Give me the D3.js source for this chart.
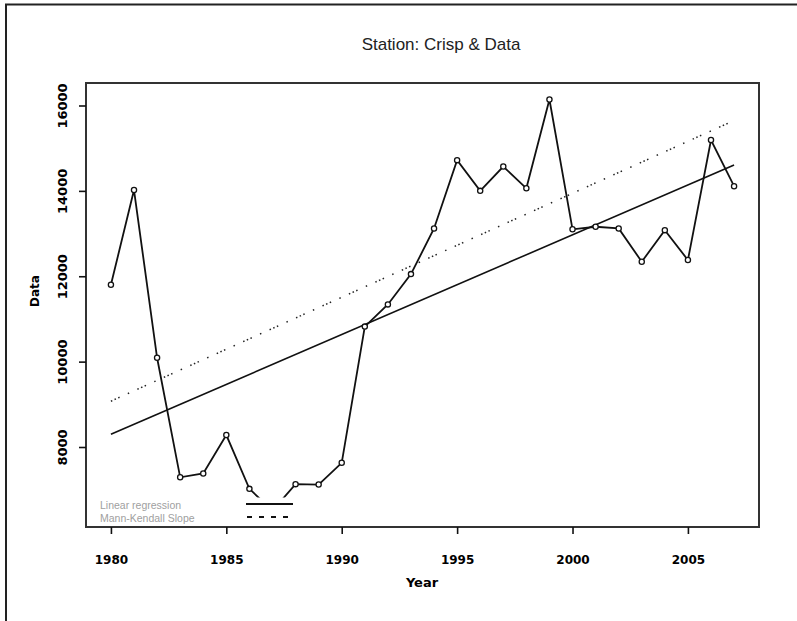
<!DOCTYPE html>
<html>
<head>
<meta charset="utf-8">
<script src="https://d3js.org/d3.v7.min.js"></script>
<style>
  html, body { margin: 0; padding: 0; background: #fff; }
  svg { display: block; }
</style>
</head>
<body>
<svg id="chart" width="797" height="621"></svg>
<script>
// ---- data ----
const years = [1980, 1981, 1982, 1983, 1984, 1985, 1986, 1987, 1988, 1989,
               1990, 1991, 1992, 1993, 1994, 1995, 1996, 1997, 1998, 1999,
               2000, 2001, 2002, 2003, 2004, 2005, 2006, 2007];
const values = [11800, 14020, 10090, 7290, 7380, 8280, 7020, 6510, 7130, 7120,
                7630, 10820, 11340, 12050, 13120, 14720, 14000, 14570, 14060, 16140,
                13100, 13160, 13120, 12340, 13080, 12380, 15190, 14110];
const trendYears = [1980, 2007];
const linearRegression = [8297, 14606];
const mannKendall = [9073, 15648];
const xTicks = [1980, 1985, 1990, 1995, 2000, 2005];
const yTicks = [8000, 10000, 12000, 14000, 16000];
const titleText = "Station: Crisp & Data";
const xLabel = "Year";
const yLabel = "Data";
const legendLabels = ["Linear regression", "Mann-Kendall Slope"];

// ---- layout ----
const svg = d3.select("#chart");
const L = 86, R = 759, T = 83, B = 527;

const x = d3.scaleLinear().domain([1978.92, 2008.08]).range([L, R]);
const y = d3.scaleLinear().domain([6126, 16527]).range([B, T]);

// outer frame
svg.append("line").attr("x1", 6).attr("x2", 6).attr("y1", 4).attr("y2", 621)
  .attr("stroke", "#222").attr("stroke-width", 2);
svg.append("line").attr("x1", 5).attr("x2", 797).attr("y1", 4.5).attr("y2", 4.5)
  .attr("stroke", "#222").attr("stroke-width", 2);

// title
svg.append("text").attr("x", 441).attr("y", 50)
  .attr("text-anchor", "middle")
  .attr("font-family", "Liberation Sans, Arial, sans-serif")
  .attr("font-size", 17).attr("fill", "#222")
  .text(titleText);

// trend lines
const tline = d3.line().x((d, i) => x(trendYears[i])).y(d => y(d));
svg.append("path").datum(linearRegression).attr("d", tline)
  .attr("fill", "none").attr("stroke", "#111").attr("stroke-width", 1.6);
svg.append("path").datum(mannKendall).attr("d", tline)
  .attr("fill", "none").attr("stroke", "#222").attr("stroke-width", 1.5)
  .attr("stroke-dasharray", "1.5,2.5,1.5,2.5,1.5,9,1.5,9");

// data line
const dline = d3.line().x((d, i) => x(years[i])).y(d => y(d));
svg.append("path").datum(values).attr("d", dline)
  .attr("fill", "none").attr("stroke", "#111").attr("stroke-width", 1.8);
svg.selectAll("circle.pt").data(values).join("circle")
  .attr("class", "pt")
  .attr("cx", (d, i) => x(years[i])).attr("cy", d => y(d))
  .attr("r", 2.6).attr("fill", "#fff").attr("stroke", "#111").attr("stroke-width", 1.3);

// legend (white background hides what is underneath)
svg.append("rect").attr("x", L + 1).attr("y", 497.5).attr("width", 214).attr("height", B - 497.5 - 1)
  .attr("fill", "#fff");
svg.selectAll("text.leg").data(legendLabels).join("text")
  .attr("class", "leg")
  .attr("x", 100).attr("y", (d, i) => 505 + i * 13).attr("dy", "0.35em")
  .attr("font-family", "Liberation Sans, Arial, sans-serif")
  .attr("font-size", 10.5).attr("fill", "#a0a0a0")
  .text(d => d);
svg.append("line").attr("x1", 246).attr("x2", 293).attr("y1", 504).attr("y2", 504)
  .attr("stroke", "#111").attr("stroke-width", 2);
svg.append("line").attr("x1", 247).attr("x2", 293).attr("y1", 517).attr("y2", 517)
  .attr("stroke", "#111").attr("stroke-width", 2).attr("stroke-dasharray", "5,7");

// plot box
svg.append("rect").attr("x", L).attr("y", T).attr("width", R - L).attr("height", B - T)
  .attr("fill", "none").attr("stroke", "#333").attr("stroke-width", 2);

// x axis
const gx = svg.append("g").attr("transform", `translate(0,${B})`)
  .call(d3.axisBottom(x).tickValues(xTicks).tickFormat(d3.format("d"))
    .tickSize(7).tickPadding(21));
gx.select(".domain").remove();
gx.selectAll("line").attr("stroke", "#111").attr("stroke-width", 1.6);
gx.selectAll("text").attr("font-family", "DejaVu Sans, sans-serif")
  .attr("font-weight", "bold").attr("font-size", 12).attr("fill", "#000");

// y axis
const gy = svg.append("g").attr("transform", `translate(${L},0)`)
  .call(d3.axisLeft(y).tickValues(yTicks).tickFormat(d3.format("d")).tickSize(7));
gy.select(".domain").remove();
gy.selectAll("line").attr("stroke", "#111").attr("stroke-width", 1.6);
gy.selectAll("text")
  .attr("transform", "rotate(-90)")
  .attr("x", 0).attr("y", -24).attr("dy", "0.35em")
  .attr("text-anchor", "middle")
  .attr("font-family", "DejaVu Sans, sans-serif")
  .attr("font-weight", "bold").attr("font-size", 13).attr("fill", "#000");

// axis titles
svg.append("text").attr("x", 422).attr("y", 582).attr("dy", "0.35em")
  .attr("text-anchor", "middle")
  .attr("font-family", "DejaVu Sans, sans-serif").attr("font-weight", "bold")
  .attr("font-size", 13).attr("fill", "#000").text(xLabel);
svg.append("text").attr("transform", "translate(35,291) rotate(-90)")
  .attr("dy", "0.35em").attr("text-anchor", "middle")
  .attr("font-family", "DejaVu Sans, sans-serif").attr("font-weight", "bold")
  .attr("font-size", 12).attr("fill", "#000").text(yLabel);
</script>
</body>
</html>
